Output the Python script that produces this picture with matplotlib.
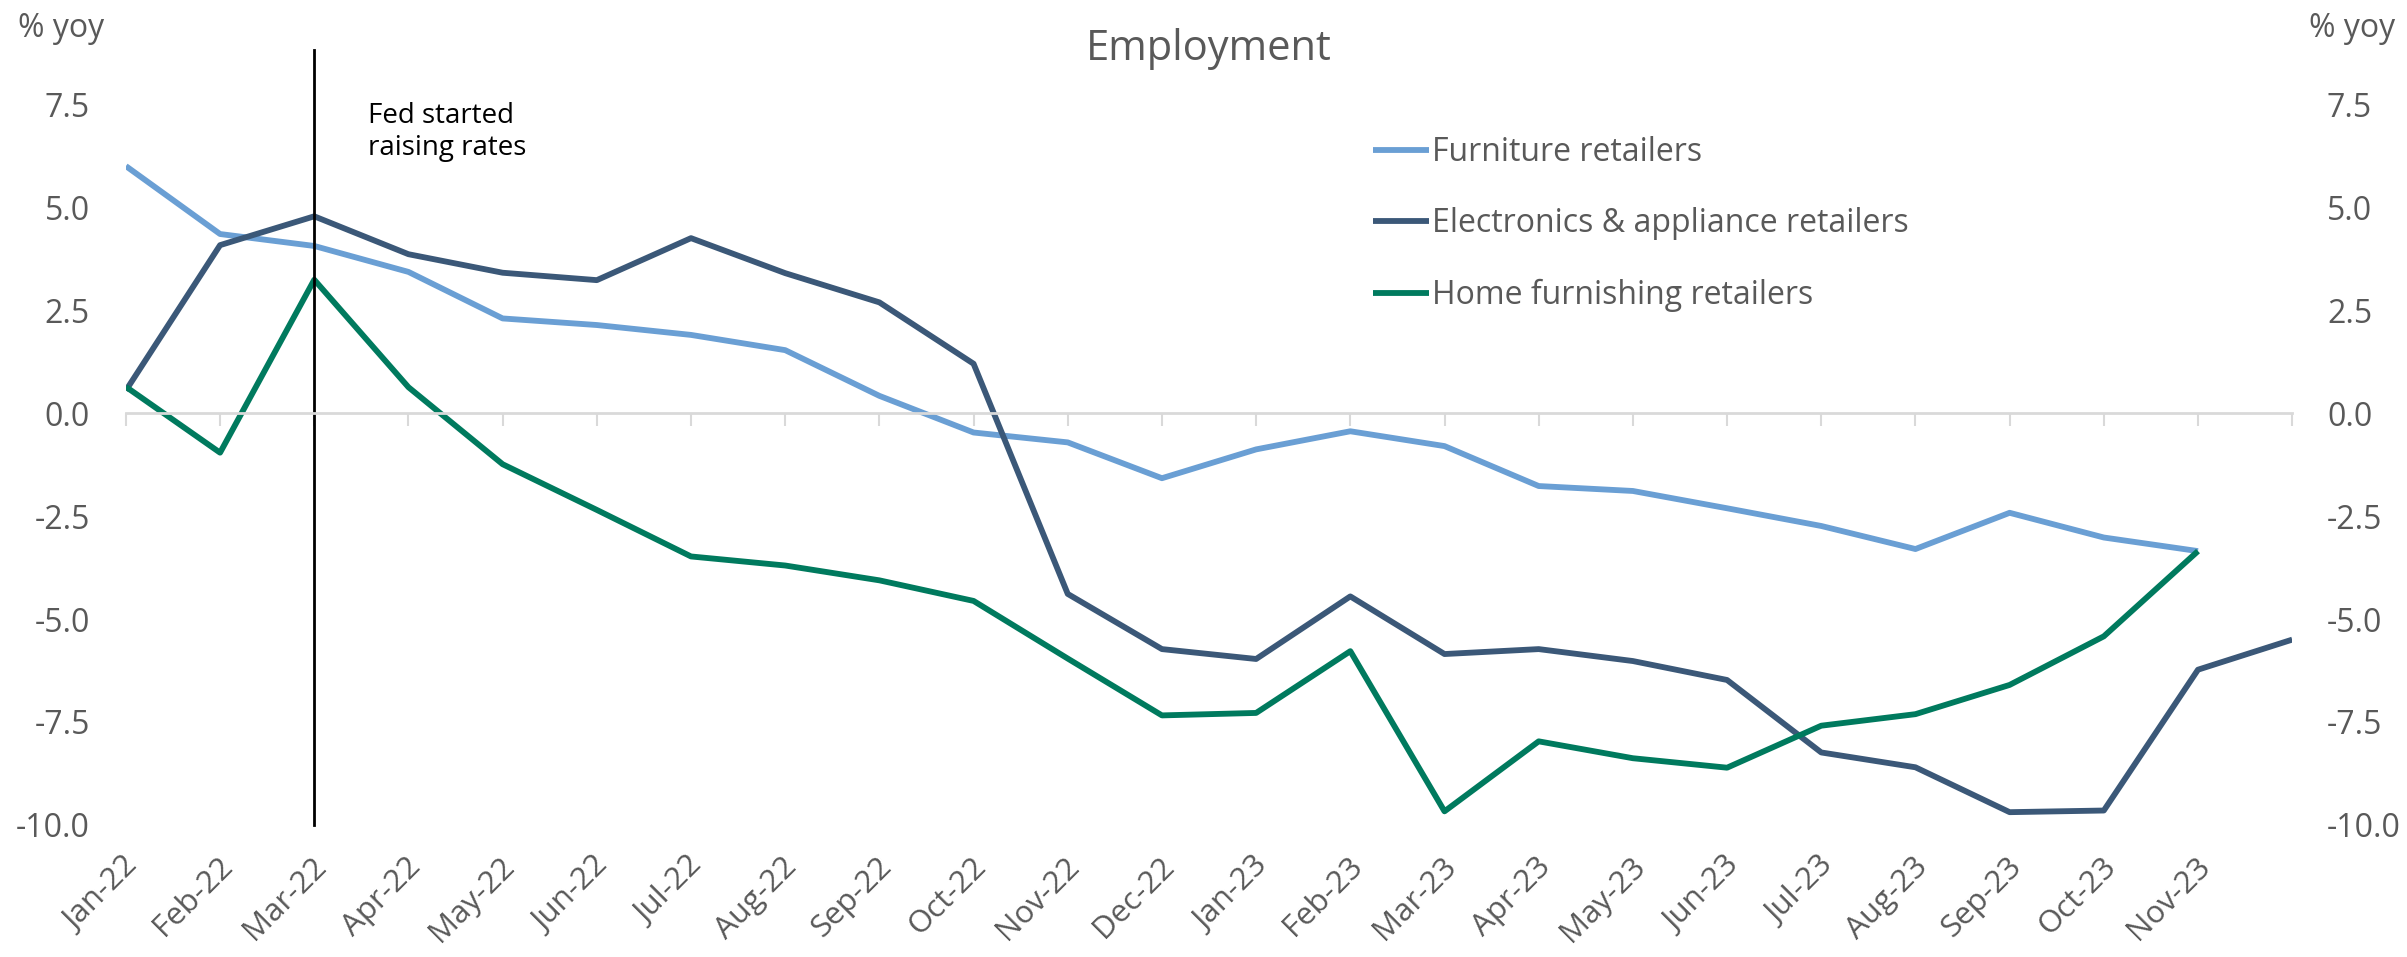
import numpy as np
import matplotlib.pyplot as plt

plt.rcParams['font.family'] = ['Open Sans', 'DejaVu Sans']
plt.rcParams['axes.unicode_minus'] = False

# data
months = ['Jan-22', 'Feb-22', 'Mar-22', 'Apr-22', 'May-22', 'Jun-22', 'Jul-22', 'Aug-22',
          'Sep-22', 'Oct-22', 'Nov-22', 'Dec-22', 'Jan-23', 'Feb-23', 'Mar-23', 'Apr-23',
          'May-23', 'Jun-23', 'Jul-23', 'Aug-23', 'Sep-23', 'Oct-23', 'Nov-23', 'Dec-23']
furniture = [6.0, 4.35, 4.06, 3.43, 2.30, 2.14, 1.90, 1.53, 0.42, -0.47, -0.71, -1.58,
             -0.88, -0.44, -0.80, -1.77, -1.89, -2.31, -2.74, -3.30, -2.42, -3.02, -3.35, np.nan]
electronics = [0.55, 4.08, 4.78, 3.86, 3.41, 3.23, 4.25, 3.40, 2.69, 1.20, -4.39, -5.73,
               -5.97, -4.45, -5.85, -5.73, -6.02, -6.48, -8.24, -8.60, -9.69, -9.65, -6.23, -5.50]
home_furn = [0.64, -0.96, 3.24, 0.63, -1.24, -2.35, -3.48, -3.70, -4.06, -4.56, -5.96, -7.34,
             -7.28, -5.78, -9.67, -7.97, -8.38, -8.61, -7.59, -7.31, -6.60, -5.42, -3.35, np.nan]
fed_start = 'Mar-22'
yticks = [-10.0, -7.5, -5.0, -2.5, 0.0, 2.5, 5.0, 7.5]

grey = '#595959'
x = np.arange(len(months))

fig = plt.figure(figsize=(24.07, 9.57), dpi=100)
ax = fig.add_axes([0.0523, 0.138, 0.9, 0.753])

ax.plot(x, furniture, color='#6A9FD4', lw=4.2, label='Furniture retailers', solid_capstyle='butt')
ax.plot(x, electronics, color='#3B5878', lw=4.2, label='Electronics & appliance retailers', solid_capstyle='butt')
ax.plot(x, home_furn, color='#007A5E', lw=4.2, label='Home furnishing retailers', solid_capstyle='butt')

ax.set_xlim(0, len(months) - 1)
ax.set_ylim(-10, 7.5)

# x axis sits on zero
for s in ['top', 'right', 'left']:
    ax.spines[s].set_visible(False)
ax.spines['bottom'].set_position(('data', 0))
ax.spines['bottom'].set_color('#D9D9D9')
ax.spines['bottom'].set_linewidth(2)
ax.set_xticks(x)
ax.tick_params(axis='x', direction='out', length=9.5, width=1.5, color='#D9D9D9', labelbottom=False)
for i, m in enumerate(months[:-1]):
    ax.text(i + 0.08, -10.9, m, rotation=45, rotation_mode='anchor', ha='right', va='center',
            fontsize=22.5, color=grey, clip_on=False)

ax.set_yticks(yticks)
ax.set_yticklabels(['%.1f' % v for v in yticks])
ax.tick_params(axis='y', length=0, pad=26, labelsize=23, labelcolor=grey)

ax2 = ax.twinx()
ax2.set_ylim(ax.get_ylim())
ax2.set_yticks(yticks)
ax2.set_yticklabels(['%.1f' % v for v in yticks])
ax2.tick_params(axis='y', length=0, pad=25, labelsize=23, labelcolor=grey)
for s in ax2.spines.values():
    s.set_visible(False)

# Fed line
xi = months.index(fed_start)
ax.axvline(xi, ymin=0, ymax=1.075, color='black', lw=2, clip_on=False)
ax.text(xi + 0.57, 7.55, 'Fed started\nraising rates', fontsize=20, color='black',
        va='top', ha='left', linespacing=1.2)

fig.text(0.502, 0.949, 'Employment', fontsize=30, color=grey, ha='center', va='center')
fig.text(0.0075, 0.97, '% yoy', fontsize=23, color=grey, ha='left', va='center')
fig.text(0.995, 0.97, '% yoy', fontsize=23, color=grey, ha='right', va='center')

ax.legend(loc='upper left', bbox_to_anchor=(0.5705, 0.858), bbox_transform=fig.transFigure,
          frameon=False, fontsize=23, labelcolor=grey, handlelength=1.75, handletextpad=0.1,
          labelspacing=1.2, borderpad=0, borderaxespad=0)

fig.savefig('out.png', dpi=100)
